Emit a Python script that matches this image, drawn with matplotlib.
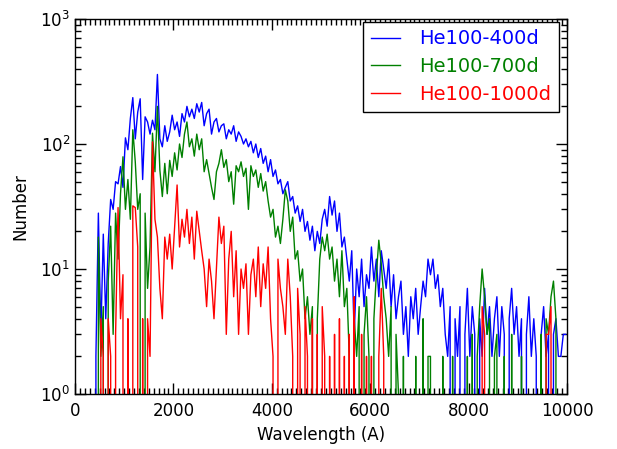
import numpy as np
import matplotlib
matplotlib.use("Agg")
import matplotlib.pyplot as plt
from matplotlib.ticker import MultipleLocator

# 50 A wide wavelength bins, bin centres
wave = np.arange(200) * 50 + 25

# counts per bin, He100 models at three epochs
n400 = [0, 0, 0, 0, 0, 0, 0, 0, 2, 28,
        3, 19, 4, 16, 36, 30, 50, 48, 66, 45,
        112, 90, 160, 235, 110, 180, 230, 52, 165, 150,
        120, 155, 130, 360, 110, 95, 140, 105, 125, 170,
        130, 150, 115, 175, 150, 200, 165, 190, 160, 210,
        180, 215, 140, 175, 190, 120, 150, 160, 125, 140,
        145, 110, 130, 120, 140, 105, 125, 115, 100, 110,
        95, 105, 85, 100, 78, 92, 70, 80, 60, 75,
        55, 62, 48, 52, 40, 45, 50, 35, 38, 28,
        32, 24, 30, 20, 24, 17, 22, 14, 20, 16,
        25, 30, 22, 38, 27, 35, 20, 28, 15, 18,
        12, 8, 14, 3, 10, 6, 12, 5, 9, 7,
        15, 8, 12, 6, 14, 10, 7, 12, 5, 9,
        4, 6, 8, 3, 5, 2, 6, 4, 7, 3,
        5, 8, 6, 12, 9, 12, 7, 9, 5, 7,
        3, 2, 5, 0, 4, 2, 5, 0, 3, 7,
        2, 5, 3, 0, 4, 2, 7, 3, 5, 2,
        4, 6, 2, 5, 3, 0, 4, 7, 3, 5,
        2, 4, 0, 3, 6, 2, 4, 2, 0, 3,
        5, 2, 3, 0, 3, 4, 2, 2, 3, 3]

n700 = [0, 0, 0, 0, 0, 0, 0, 0, 0, 18,
        2, 5, 0, 8, 22, 3, 28, 12, 40, 79,
        30, 52, 25, 130, 72, 30, 40, 0, 28, 7,
        15, 122, 60, 200, 62, 38, 70, 40, 74, 55,
        85, 62, 100, 78, 120, 150, 95, 110, 80, 120,
        90, 110, 60, 75, 58, 45, 36, 60, 70, 90,
        65, 75, 50, 60, 33, 67, 60, 72, 55, 64,
        30, 67, 55, 62, 45, 58, 42, 50, 35, 26,
        30, 18, 22, 16, 25, 43, 35, 20, 26, 12,
        14, 8, 10, 4, 6, 3, 5, 0, 4, 12,
        18, 14, 19, 12, 15, 8, 12, 6, 14, 5,
        7, 2, 0, 4, 2, 5, 0, 3, 6, 2,
        0, 4, 9, 17, 11, 6, 4, 2, 5, 0,
        3, 1, 0, 2, 0, 0, 0, 0, 2, 0,
        0, 4, 0, 2, 2, 0, 0, 0, 0, 2,
        0, 0, 0, 2, 0, 0, 0, 0, 0, 2,
        0, 3, 0, 2, 5, 10, 6, 3, 4, 0,
        2, 3, 0, 0, 2, 0, 0, 3, 0, 0,
        0, 2, 0, 0, 0, 0, 0, 0, 0, 3,
        0, 4, 3, 6, 8, 4, 0, 0, 0, 0]

n1000 = [0, 0, 0, 0, 0, 0, 0, 0, 0, 0,
         4, 2, 0, 4, 2, 0, 3, 31, 4, 9,
         0, 4, 0, 32, 31, 15, 0, 4, 0, 4,
         2, 104, 25, 18, 7, 4, 18, 12, 19, 10,
         22, 47, 15, 25, 18, 30, 16, 26, 12, 29,
         20, 14, 10, 5, 12, 8, 4, 10, 26, 16,
         22, 3, 12, 20, 6, 14, 3, 10, 7, 11,
         3, 9, 12, 6, 15, 5, 11, 7, 15, 4,
         2, 0, 12, 7, 5, 3, 12, 6, 2, 0,
         7, 3, 0, 5, 2, 0, 4, 0, 3, 0,
         5, 2, 0, 2, 0, 3, 0, 4, 0, 2,
         0, 3, 0, 6, 0, 0, 3, 0, 2, 0,
         2, 0, 0, 2, 7, 2, 0, 0, 0, 0,
         0, 0, 0, 0, 0, 0, 0, 0, 0, 0,
         0, 0, 0, 0, 0, 0, 0, 0, 0, 0,
         0, 0, 0, 0, 0, 0, 0, 0, 0, 0,
         0, 0, 0, 0, 0, 5, 3, 0, 0, 0,
         0, 0, 0, 0, 0, 0, 0, 0, 0, 0,
         0, 0, 0, 0, 0, 0, 0, 0, 0, 0,
         0, 3, 3, 5, 0, 0, 0, 0, 0, 0]

labels = ['He100-400d', 'He100-700d', 'He100-1000d']
colors = ['blue', 'green', 'red']

plt.rcParams['font.family'] = 'DejaVu Sans'
plt.rcParams['font.size'] = 12
plt.rcParams['xtick.direction'] = 'in'
plt.rcParams['ytick.direction'] = 'in'

fig = plt.figure(figsize=(6.17, 4.49), dpi=100)
ax = fig.add_axes([75 / 617, 1 - 394 / 449, 492 / 617, 375 / 449])

for y, lab, c in zip([n400, n700, n1000], labels, colors):
    ax.plot(wave, y, color=c, lw=1.0, label=lab)

ax.set_yscale('log')
ax.set_xlim(0, 10000)
ax.set_ylim(1, 1000)
ax.xaxis.set_major_locator(MultipleLocator(2000))
ax.xaxis.set_minor_locator(MultipleLocator(100))
ax.tick_params(which='both', top=True, right=True, labelsize=12)
ax.tick_params(which='major', length=8, width=1)
ax.tick_params(which='minor', length=4, width=1)
ax.tick_params(axis='x', pad=6)
for s in ax.spines.values():
    s.set_linewidth(1.0)

ax.set_xlabel('Wavelength (A)', fontsize=12)
ax.set_ylabel('Number', fontsize=12, labelpad=8)

leg = ax.legend(loc='upper right', bbox_to_anchor=(0.984, 0.993),
                fontsize=14, fancybox=False, framealpha=1,
                edgecolor='black', handlelength=1.5, handletextpad=1.0,
                labelspacing=0.45, borderpad=0.4, borderaxespad=0)
leg.get_frame().set_linewidth(1.0)
for t, c in zip(leg.get_texts(), colors):
    t.set_color(c)

fig.savefig('out.png', dpi=100)
